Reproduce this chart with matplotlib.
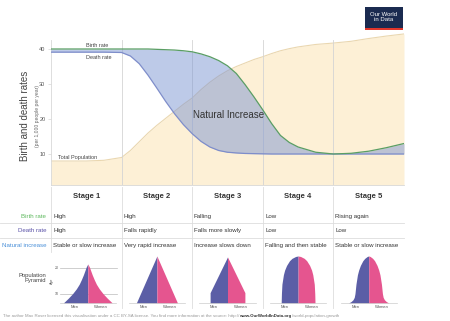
import matplotlib
matplotlib.use("Agg")
import matplotlib.pyplot as plt
from matplotlib.patches import Rectangle

plt.rcParams['font.family'] = ['Liberation Sans', 'DejaVu Sans']

# ---------------- data ----------------
stage_x = [0, 0.5, 0.75, 1.0, 1.125, 1.25, 1.375, 1.5, 1.625, 1.75, 1.875, 2.0,
           2.125, 2.25, 2.375, 2.5, 2.625, 2.75, 2.875, 3.0, 3.125, 3.25, 3.375,
           3.5, 3.75, 4.0, 4.25, 4.5, 4.75, 5.0]
birth_rate = [40, 40, 40, 40, 40, 40, 40, 39.9, 39.8, 39.7, 39.5, 39.2,
              38.6, 37.8, 36.7, 35.2, 33.0, 29.8, 26.3, 22.6, 18.7, 15.3, 13.3,
              12.0, 10.5, 10.0, 10.2, 10.8, 11.8, 13.0]
death_rate = [39.1, 39.1, 39.1, 39.0, 38.0, 35.8, 32.5, 28.8, 25.0, 21.5, 18.4, 15.8,
              13.6, 12.0, 11.0, 10.5, 10.3, 10.15, 10.1, 10.05, 10.0, 10.0, 10.0,
              10.0, 10.0, 10.0, 10.0, 10.0, 10.0, 10.0]
population = [8.0, 8.0, 8.2, 9.0, 11.0, 13.5, 16.0, 18.2, 20.2, 22.2, 24.2, 26.0,
              28.4, 30.5, 32.3, 33.8, 35.0, 36.0, 37.0, 37.8, 38.7, 39.5, 40.1,
              40.6, 41.3, 41.7, 42.2, 43.0, 43.7, 44.3]

yticks = [10, 20, 30, 40]
stages = ["Stage 1", "Stage 2", "Stage 3", "Stage 4", "Stage 5"]
row_labels = ["Birth rate", "Death rate", "Natural increase"]
row_colors = ["#5cb85c", "#5b52a8", "#4a90d9"]
birth_text = ["High", "High", "Falling", "Low", "Rising again"]
death_text = ["High", "Falls rapidly", "Falls more slowly", "Low", "Low"]
natural_text = ["Stable or slow increase", "Very rapid increase", "Increase slows down",
                "Falling and then stable", "Stable or slow increase"]

# pyramid profiles: height (0 = base, 1 = top) and half width
pyr_h = [
    [0, 0.1, 0.2, 0.3, 0.4, 0.5, 0.6, 0.7, 0.76, 0.83],
    [0, 1.0],
    [0, 0.22, 0.98],
    [0, 0.2, 0.4, 0.6, 0.7, 0.8, 0.9, 0.95, 0.99, 1.0],
    [0, 0.03, 0.07, 0.12, 0.2, 0.4, 0.6, 0.7, 0.8, 0.9, 0.95, 0.99, 1.0],
]
pyr_w = [
    [1.0, 0.80, 0.62, 0.47, 0.35, 0.26, 0.18, 0.11, 0.07, 0.0],
    [0.84, 0.0],
    [0.71, 0.71, 0.0],
    [0.69, 0.68, 0.66, 0.60, 0.55, 0.47, 0.35, 0.25, 0.1, 0.0],
    [0.82, 0.72, 0.64, 0.59, 0.56, 0.52, 0.46, 0.41, 0.34, 0.24, 0.16, 0.06, 0.0],
]

W, H = 450, 321
fig = plt.figure(figsize=(W / 100, H / 100), dpi=100)

def fx(px):
    return px / W

def fy(py):
    return 1 - py / H

# overlay for table / text (pixel coords)
ov = fig.add_axes([0, 0, 1, 1])
ov.set_xlim(0, W)
ov.set_ylim(H, 0)
ov.axis("off")

# ---------------- main chart ----------------
x0, x1 = 51, 404
ytop_px, ybot_px = 31.5, 185
ax = fig.add_axes([fx(x0), fy(ybot_px), fx(x1 - x0), (ybot_px - ytop_px) / H])
ax.patch.set_alpha(0)
ax.set_xlim(0, 5)
ylo, yhi = 1.14, 45
ax.set_ylim(ylo, yhi)

ax.fill_between(stage_x, ylo, population, color="#fdf0d6", lw=0, zorder=1)
ax.plot(stage_x, population, color="#ead7b0", lw=0.8, zorder=2)
ax.fill_between(stage_x, death_rate, birth_rate, where=[b >= d for b, d in zip(birth_rate, death_rate)],
                color="#7d96d2", alpha=0.5, lw=0, zorder=3, interpolate=True)
ax.plot(stage_x, birth_rate, color="#5a9e64", lw=0.9, zorder=5)
ax.plot(stage_x, death_rate, color="#7e8dca", lw=0.9, zorder=4)

gtop = (42.6 - ylo) / (yhi - ylo)
for b in range(1, 5):
    ax.axvline(b, ymin=0, ymax=gtop, color="#d4d4d4", lw=0.6, zorder=2.5)

for s in ["top", "right"]:
    ax.spines[s].set_visible(False)
ax.spines["left"].set_color("#d8d8d8")
ax.spines["left"].set_linewidth(0.6)
ax.spines["left"].set_bounds(ylo, 42.6)
ax.spines["bottom"].set_color("#d8d8d8")
ax.spines["bottom"].set_linewidth(0.6)
ax.set_xticks([])
ax.set_yticks(yticks)
ax.set_yticklabels([str(t) for t in yticks])
ax.tick_params(axis="y", labelsize=4, colors="#cccccc", labelcolor="#555555", length=2, width=0.4, pad=2)

ax.text(0.49, 41.0, "Birth rate", fontsize=4, color="#444444", va="center")
ax.text(0.49, 37.6, "Death rate", fontsize=4, color="#444444", va="center")
ax.text(0.1, 9.0, "Total Population", fontsize=4, color="#444444", va="center")
ax.text(2.52, 21.2, "Natural Increase", fontsize=7, color="#333333", ha="center", va="center", zorder=6)

ov.text(25, 116, "Birth and death rates", fontsize=7, color="#444444", rotation=90, ha="center", va="center")
ov.text(37, 116, "(per 1,000 people per year)", fontsize=3.6, color="#666666", rotation=90, ha="center", va="center")

# logo
ov.add_patch(Rectangle((365, 7), 38, 23, color="#1b2b50", lw=0))
ov.add_patch(Rectangle((365, 27.5), 38, 2.5, color="#e0362b", lw=0))
ov.text(384, 17, "Our World\nin Data", fontsize=4.3, color="white", ha="center", va="center", linespacing=0.95)

# ---------------- table ----------------
bounds = [51, 121.6, 192.2, 262.8, 333.4, 404]
centers = [(bounds[i] + bounds[i + 1]) / 2 for i in range(5)]
for i, s in enumerate(stages):
    ov.text(centers[i], 196, s, fontsize=5.5, fontweight="bold", color="#333333", ha="center", va="center")

ov.plot([51, 51], [187, 252], color="#dddddd", lw=0.6)
for b in bounds[1:5]:
    ov.plot([b, b], [187, 308], color="#dddddd", lw=0.6)
for yy in [223, 237.5]:
    ov.plot([0, 404], [yy, yy], color="#dddddd", lw=0.6)

row_y = [218, 232, 247]
for r, (lab, col) in enumerate(zip(row_labels, row_colors)):
    ov.text(46, row_y[r], lab, fontsize=4.4, color=col, ha="right", va="baseline")
for r, texts in enumerate([birth_text, death_text, natural_text]):
    for i, t in enumerate(texts):
        ov.text(round(bounds[i]) + 2, row_y[r], t, fontsize=4.4, color="#333333", ha="left", va="baseline")

ov.text(46, 278, "Population\nPyramid", fontsize=4.2, color="#444444", ha="right", va="center", linespacing=1.1)

# pyramids
unit_px = 24.5
for i in range(5):
    cx = centers[i] + (1.5 if i == 0 else 0)
    half = 1.2 * unit_px
    pa = fig.add_axes([fx(cx - half), fy(303), fx(2 * half), (303 - 256) / H])
    pa.set_xlim(-1.2, 1.2)
    pa.set_ylim(0, 1)
    pa.axis("off")
    h = pyr_h[i]
    w = pyr_w[i]
    pa.fill_betweenx(h, [-v for v in w], 0, color="#5b5ea6", lw=0)
    pa.fill_betweenx(h, 0, w, color="#e5558f", lw=0)
    pa.plot([-1.15, 1.15], [0, 0], color="#cccccc", lw=0.5, clip_on=False)
    pa.text(-0.55, -0.09, "Men", fontsize=3, color="#555555", ha="center", va="center", clip_on=False)
    pa.text(0.55, -0.09, "Women", fontsize=3, color="#555555", ha="center", va="center", clip_on=False)
    if i == 0:
        for yy, lab in [(0.19, "10"), (0.745, "20")]:
            pa.plot([-1.14, 1.18], [yy, yy], color="#bbbbbb", lw=0.5, zorder=0, clip_on=False)
            pa.text(-1.28, yy, lab, fontsize=2.6, color="#555555", ha="center", va="center", clip_on=False)
        pa.text(-1.45, 0.47, "Age", fontsize=2.6, color="#555555", rotation=90, ha="center", va="center", clip_on=False)

# footer
t1 = ov.text(3, 316, "The author Max Roser licensed this visualisation under a CC BY-SA license. You find more information at the source: http://",
             fontsize=3.2, color="#999999", ha="left", va="center")
t2 = ov.annotate("www.OurWorldInData.org", xy=(1, 0), xycoords=t1, fontsize=3.2, color="#333333",
                 fontweight="bold", ha="left", va="bottom")
t3 = ov.annotate("/world-population-growth", xy=(1, 0), xycoords=t2, fontsize=3.2, color="#999999",
                 ha="left", va="bottom")

fig.savefig("out.png", dpi=100)
